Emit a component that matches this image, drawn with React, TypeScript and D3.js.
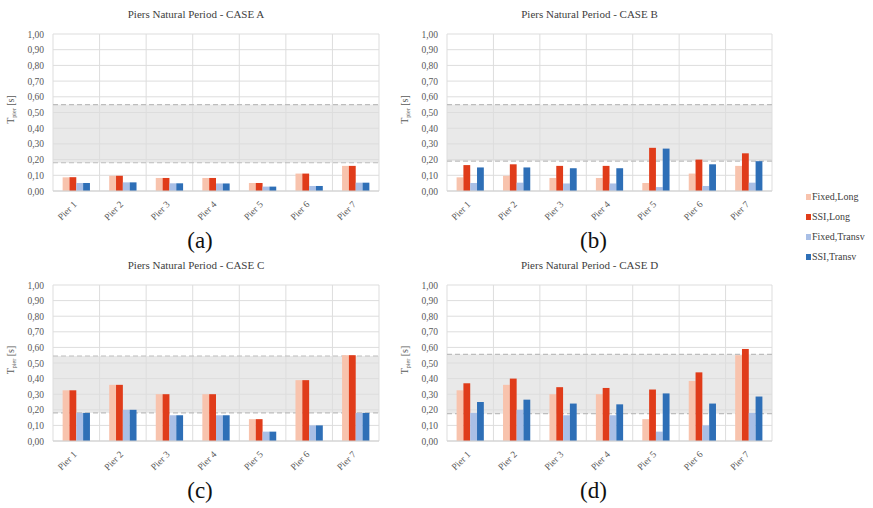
import React from "react";
import * as d3 from "d3";

const piers = ["Pier 1", "Pier 2", "Pier 3", "Pier 4", "Pier 5", "Pier 6", "Pier 7"];
const seriesNames = ["Fixed,Long", "SSI,Long", "Fixed,Transv", "SSI,Transv"];
const seriesColors = ["#f8c3ad", "#e03c1a", "#a9bfe6", "#2e6fb7"];
const yTicks = [0, 0.1, 0.2, 0.3, 0.4, 0.5, 0.6, 0.7, 0.8, 0.9, 1.0];

// case A
const aFixedLong = [0.087, 0.097, 0.083, 0.083, 0.051, 0.111, 0.16];
const aSsiLong = [0.088, 0.097, 0.083, 0.083, 0.051, 0.111, 0.16];
const aFixedTransv = [0.051, 0.055, 0.049, 0.048, 0.028, 0.032, 0.053];
const aSsiTransv = [0.051, 0.055, 0.049, 0.048, 0.028, 0.032, 0.053];
const aBand = [0.18, 0.55];

// case B
const bFixedLong = [0.087, 0.097, 0.083, 0.083, 0.051, 0.111, 0.16];
const bSsiLong = [0.165, 0.17, 0.16, 0.16, 0.275, 0.2, 0.24];
const bFixedTransv = [0.051, 0.053, 0.048, 0.048, 0.025, 0.032, 0.053];
const bSsiTransv = [0.15, 0.15, 0.145, 0.145, 0.27, 0.17, 0.19];
const bBand = [0.19, 0.55];

// case C
const cFixedLong = [0.325, 0.36, 0.3, 0.3, 0.14, 0.39, 0.55];
const cSsiLong = [0.325, 0.36, 0.3, 0.3, 0.14, 0.39, 0.55];
const cFixedTransv = [0.18, 0.2, 0.165, 0.165, 0.06, 0.1, 0.18];
const cSsiTransv = [0.18, 0.2, 0.165, 0.165, 0.06, 0.1, 0.18];
const cBand = [0.18, 0.545];

// case D
const dFixedLong = [0.325, 0.36, 0.3, 0.3, 0.14, 0.385, 0.55];
const dSsiLong = [0.37, 0.4, 0.345, 0.34, 0.33, 0.44, 0.59];
const dFixedTransv = [0.18, 0.2, 0.165, 0.165, 0.06, 0.1, 0.18];
const dSsiTransv = [0.25, 0.265, 0.24, 0.235, 0.305, 0.24, 0.285];
const dBand = [0.175, 0.555];

const FONT = "'Liberation Serif', 'Times New Roman', serif";
const fmt = (v: number) => d3.format(".2f")(v).replace(".", ",");

type PanelProps = {
  title: string;
  caption: string;
  series: number[][];
  band: number[];
  x0: number;
  x1: number;
  yTop: number;
  yBot: number;
};

const Panel = ({ title, caption, series, band, x0, x1, yTop, yBot }: PanelProps) => {
  const x = d3.scaleBand().domain(piers).range([x0, x1]).padding(0);
  const sub = d3
    .scaleBand()
    .domain(seriesNames)
    .range([0, x.bandwidth()])
    .paddingInner(0)
    .paddingOuter(1.41);
  const y = d3.scaleLinear().domain([0, 1]).range([yBot, yTop]);
  const cx = (x0 + x1) / 2;

  return (
    <g>
      <text x={cx - 20} y={yTop - 16} textAnchor="middle" fontSize={11} fill="#404040" fontFamily={FONT}>
        {title}
      </text>
      {/* band */}
      <rect x={x0} y={y(band[1])} width={x1 - x0} height={y(band[0]) - y(band[1])} fill="#e9e9e9" />
      {/* grid */}
      {yTicks.map((t) => (
        <line key={t} x1={x0} x2={x1} y1={y(t)} y2={y(t)} stroke="#dddddd" strokeWidth={1} />
      ))}
      {piers.map((p) => (
        <line key={p} x1={x(p)!} x2={x(p)!} y1={yTop} y2={yBot} stroke="#dddddd" strokeWidth={1} />
      ))}
      <line x1={x1} x2={x1} y1={yTop} y2={yBot} stroke="#dddddd" strokeWidth={1} />
      {band.map((b, i) => (
        <line key={i} x1={x0} x2={x1} y1={y(b)} y2={y(b)} stroke="#bdbdbd" strokeWidth={1.2} strokeDasharray="5,3" />
      ))}
      {/* bars */}
      {series.map((vals, si) =>
        vals.map((v, i) => (
          <rect
            key={si + "-" + i}
            x={x(piers[i])! + sub(seriesNames[si])!}
            y={y(v)}
            width={sub.bandwidth()}
            height={yBot - y(v)}
            fill={seriesColors[si]}
          />
        ))
      )}
      <line x1={x0} x2={x1} y1={yBot} y2={yBot} stroke="#d0d0d0" strokeWidth={1} />
      {/* y ticks */}
      {yTicks.map((t) => (
        <text key={t} x={x0 - 9} y={y(t) + 3.5} textAnchor="end" fontSize={9.5} fill="#595959" fontFamily={FONT}>
          {fmt(t)}
        </text>
      ))}
      {/* x labels */}
      {piers.map((p) => {
        const px = x(p)! + x.bandwidth() / 2 + 1;
        const py = yBot + 14;
        return (
          <text
            key={p}
            x={px}
            y={py}
            textAnchor="end"
            fontSize={9.5}
            fill="#595959"
            fontFamily={FONT}
            transform={`rotate(-45, ${px}, ${py})`}
          >
            {p}
          </text>
        );
      })}
      {/* y label */}
      <text
        transform={`translate(${x0 - 39}, ${(yTop + yBot) / 2 - 3}) rotate(-90)`}
        textAnchor="middle"
        fontSize={10}
        fill="#595959"
        fontFamily={FONT}
      >
        T<tspan fontSize={6} dy={2}>pier</tspan>
        <tspan dy={-2}> [s]</tspan>
      </text>
      <text x={cx - 16} y={yBot + 57} textAnchor="middle" fontSize={23} fill="#111" fontFamily={FONT}>
        {caption}
      </text>
    </g>
  );
};

const App = () => {
  const legendY = [198, 218, 238, 258];
  return (
    <svg width={873} height={508} style={{ position: "absolute", left: 0, top: 0, background: "#fff" }}>
      <Panel
        title="Piers Natural Period - CASE A"
        caption="(a)"
        series={[aFixedLong, aSsiLong, aFixedTransv, aSsiTransv]}
        band={aBand}
        x0={53}
        x1={379}
        yTop={34}
        yBot={191}
      />
      <Panel
        title="Piers Natural Period - CASE B"
        caption="(b)"
        series={[bFixedLong, bSsiLong, bFixedTransv, bSsiTransv]}
        band={bBand}
        x0={447}
        x1={772}
        yTop={34}
        yBot={191}
      />
      <Panel
        title="Piers Natural Period - CASE C"
        caption="(c)"
        series={[cFixedLong, cSsiLong, cFixedTransv, cSsiTransv]}
        band={cBand}
        x0={53}
        x1={379}
        yTop={285}
        yBot={441}
      />
      <Panel
        title="Piers Natural Period - CASE D"
        caption="(d)"
        series={[dFixedLong, dSsiLong, dFixedTransv, dSsiTransv]}
        band={dBand}
        x0={447}
        x1={772}
        yTop={285}
        yBot={441}
      />
      {seriesNames.map((s, i) => (
        <g key={s}>
          <rect x={806} y={legendY[i] - 4} width={5} height={6} fill={seriesColors[i]} />
          <text x={812} y={legendY[i] + 2} fontSize={10} fill="#404040" fontFamily={FONT}>
            {s}
          </text>
        </g>
      ))}
    </svg>
  );
};

export default App;
